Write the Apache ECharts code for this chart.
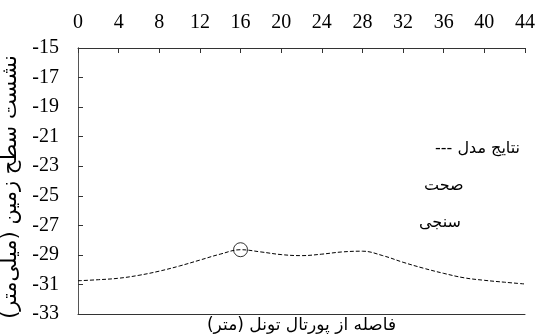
<!DOCTYPE html>
<html>
<head>
<meta charset="utf-8">
<script src="https://cdn.jsdelivr.net/npm/echarts@6/dist/echarts.min.js"></script>
<style>
  html, body { margin: 0; padding: 0; background: #fff; }
  #chart { width: 535px; height: 334px; }
</style>
</head>
<body>
<div id="chart"></div>
<script>
// Distance from tunnel portal (m)
const distance = [0, 2, 4, 6, 8, 10, 12, 14, 16, 18, 20, 22, 24, 26, 28, 30, 32, 34, 36, 38, 40, 42, 44];
// Modelled surface settlement (mm)
const settlement = [-30.75, -30.68, -30.58, -30.38, -30.1, -29.75, -29.35, -28.95, -28.65, -28.8, -28.98, -29.05,
  -28.95, -28.8, -28.75, -29.05, -29.5, -29.9, -30.25, -30.55, -30.72, -30.85, -30.97];
// Validation point
const checkX = [16];
const checkY = [-28.65];

const xTicks = { min: 0, max: 44, interval: 4 };
const yTicks = { min: -33, max: -15, interval: 2 };

const RLM = '\u200F';
const xTitle = 'فاصله از پورتال تونل (متر)' + RLM;
const yTitle = 'نشست سطح زمین (میلی‌متر)' + RLM;
const legendLines = ['--- نتایج مدل', 'صحت', 'سنجی'];

const serif = '"Liberation Serif", "Times New Roman", serif';
const arabic = '"DejaVu Sans"';

const chart = echarts.init(document.getElementById('chart'), null, { renderer: 'canvas' });

chart.setOption({
  animation: false,
  backgroundColor: '#fff',
  grid: { left: 78, top: 48, right: 10, bottom: 20, containLabel: false, outerBoundsMode: 'none' },
  xAxis: [
    {
      type: 'value', position: 'top', min: xTicks.min, max: xTicks.max, interval: xTicks.interval,
      axisLine: { show: true, lineStyle: { color: '#333', width: 1 } },
      axisTick: { show: true, inside: true, length: 5, lineStyle: { color: '#333' } },
      axisLabel: { fontFamily: serif, fontSize: 20, color: '#000', margin: 15 },
      splitLine: { show: false }
    },
    {
      type: 'value', position: 'bottom', min: xTicks.min, max: xTicks.max,
      axisLine: { show: true, lineStyle: { color: '#333', width: 1 } },
      axisTick: { show: false }, axisLabel: { show: false }, splitLine: { show: false },
      name: xTitle, nameLocation: 'middle', nameGap: 3,
      nameTextStyle: { fontFamily: arabic, fontSize: 17, color: '#000', verticalAlign: 'top' }
    }
  ],
  yAxis: [
    {
      type: 'value', min: yTicks.min, max: yTicks.max, interval: yTicks.interval,
      axisLine: { show: true, lineStyle: { color: '#333', width: 1 } },
      axisTick: { show: true, inside: true, length: 5, lineStyle: { color: '#333' } },
      axisLabel: { fontFamily: serif, fontSize: 20, color: '#000', margin: 19 },
      splitLine: { show: false },
      name: yTitle, nameLocation: 'middle', nameGap: 45,
      nameTextStyle: { fontFamily: arabic, fontSize: 21, color: '#000', padding: [0, 12, 0, 0] }
    },
    {
      type: 'value', position: 'right', min: yTicks.min, max: yTicks.max,
      axisLine: { show: true, lineStyle: { color: '#555', width: 1 } },
      axisTick: { show: false }, axisLabel: { show: false }, splitLine: { show: false }
    }
  ],
  series: [
    {
      type: 'line', xAxisIndex: 0, yAxisIndex: 0, smooth: 0.4,
      data: distance.map((d, i) => [d, settlement[i]]),
      symbol: 'none',
      lineStyle: { color: '#000', width: 1, type: [4, 2] }
    },
    {
      type: 'scatter', xAxisIndex: 0, yAxisIndex: 0,
      data: checkX.map((d, i) => [d, checkY[i]]),
      symbol: 'circle', symbolSize: 14,
      itemStyle: { color: 'rgba(0,0,0,0)', borderColor: '#000', borderWidth: 1 }
    }
  ],
  graphic: [
    { type: 'text', right: 15, top: 141, style: { text: legendLines[0], font: '16px "DejaVu Sans"', fill: '#000' } },
    { type: 'text', left: 424, top: 178, style: { text: legendLines[1], font: '16px "DejaVu Sans"', fill: '#000' } },
    { type: 'text', left: 419, top: 215, style: { text: legendLines[2], font: '16px "DejaVu Sans"', fill: '#000' } }
  ]
});
</script>
</body>
</html>
